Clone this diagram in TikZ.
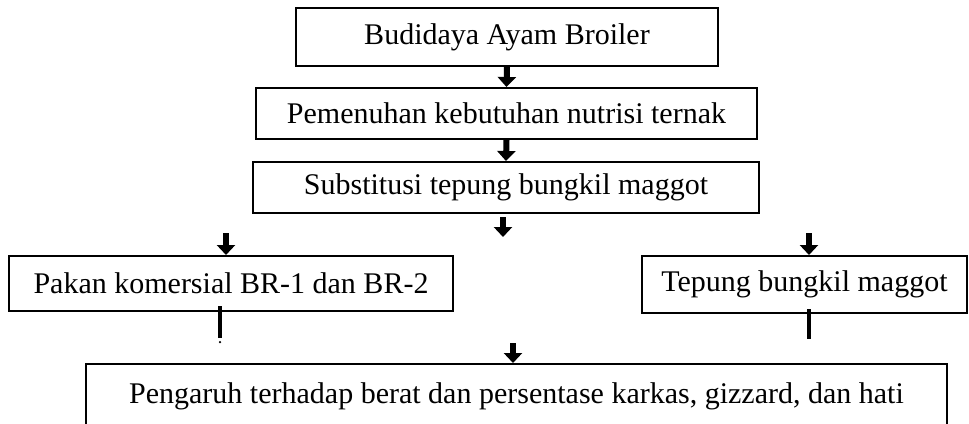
\documentclass[tikz,border=0pt]{standalone}
\usepackage{fontspec}
\setmainfont{Liberation Serif}
\usetikzlibrary{arrows.meta}
\begin{document}
\begin{tikzpicture}[x=0.4pt,y=-0.4pt,
		box/.style={draw,thick,inner sep=0pt,font=\fontsize{12}{14}\selectfont},
		arr/.style={line width=2.4pt,-{Triangle[width=7.2pt,length=4pt]}},
		stub/.style={line width=1.3pt}]
		\clip (0,0) rectangle (969,423);
		\node [box,minimum width=168.8pt,minimum height=23.2pt] (0) at (507,37) {Budidaya Ayam Broiler};
		\node [box,minimum width=200.4pt,minimum height=20.4pt] (1) at (506.5,113.5) {Pemenuhan kebutuhan nutrisi ternak};
		\node [box,minimum width=202.4pt,minimum height=20.4pt] (2) at (506,187.5) {Substitusi tepung bungkil maggot};
		\node [box,minimum width=177.6pt,minimum height=22pt] (3) at (231,283.5) {Pakan komersial BR-1 dan BR-2};
		\node [box,minimum width=130pt,minimum height=22.8pt] (4) at (804.5,284.5) {Tepung bungkil maggot};
		\node [box,minimum width=344.4pt,minimum height=25.6pt] (5) at (516.5,396) {Pengaruh terhadap berat dan persentase karkas, gizzard, dan hati};
		% free ends
		\coordinate (6) at (503,237);
		\coordinate (7) at (226,233);
		\coordinate (8) at (809,233);
		\coordinate (9) at (220,338);
		\coordinate (10) at (809,339);
		\coordinate (11) at (513,343);
		\draw [arr] (0.south) -- (1.north);
		\draw [arr] (1.south) -- (2.north);
		\draw [arr] ([yshift=-1.2pt]2.south -| 6) -- (6);
		\draw [arr] (7) -- (7 |- 3.north);
		\draw [arr] (8) -- (8 |- 4.north);
		\draw [stub] ([yshift=2.4pt]3.south -| 9) -- (9);
		\fill (220,342) circle (0.5pt);
		\draw [stub] ([yshift=2pt]4.south -| 10) -- (10);
		\draw [arr] (11) -- (11 |- 5.north);
	\end{tikzpicture}
\end{document}
